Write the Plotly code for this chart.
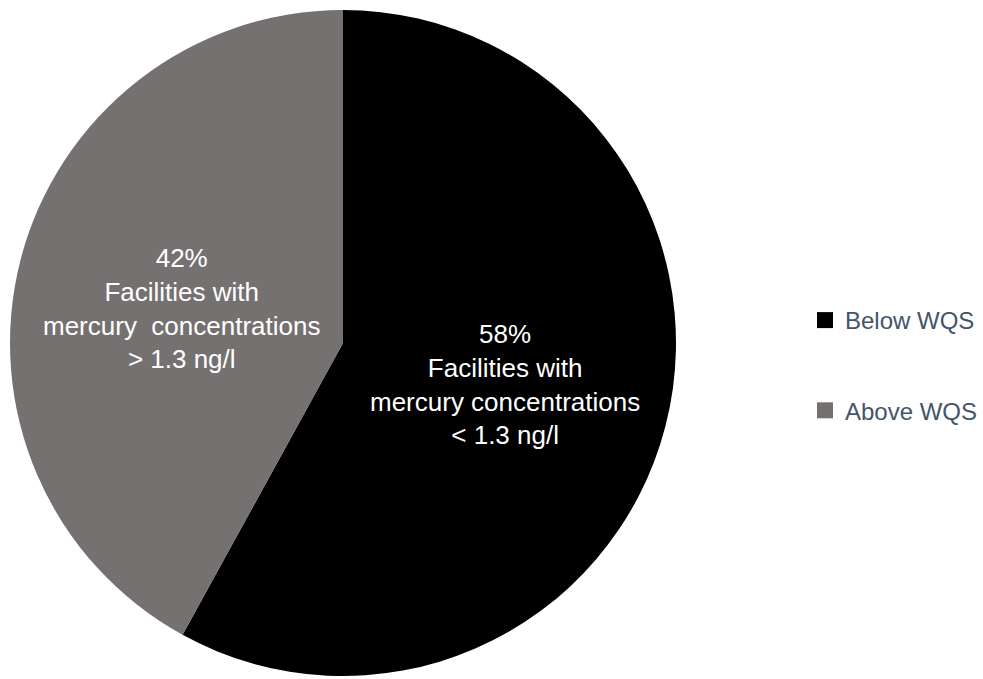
import plotly.graph_objects as go

# Share of facilities relative to the water quality standard (WQS)
categories = ["Below WQS", "Above WQS"]
shares = [58, 42]
descriptions = [
    "Facilities with<br>mercury concentrations<br>&lt; 1.3 ng/l",
    "Facilities with<br>mercury&nbsp; concentrations<br>&gt; 1.3 ng/l",
]
colors = ["#000000", "#767171"]

# label anchor points in paper coordinates
label_pos = [(0.514, 0.433), (0.185, 0.545)]

FONT = "Liberation Sans, Arial, sans-serif"

fig = go.Figure()
fig.add_trace(go.Pie(
    labels=categories,
    values=shares,
    marker=dict(colors=colors, line=dict(width=0)),
    sort=False,
    direction="clockwise",
    rotation=0,
    textinfo="none",
    hoverinfo="label+percent",
    showlegend=False,
    domain=dict(x=[10 / 983, 676 / 983], y=[3 / 679, 669 / 679]),
))

# legend entries
for i, (cat, col) in enumerate(zip(categories, colors)):
    fig.add_trace(go.Scatter(
        x=[None], y=[None], mode="markers", name=cat,
        marker=dict(symbol="square", size=16, color=col),
        legendgroup=f"g{i}", showlegend=True,
    ))

for (x, y), s, d in zip(label_pos, shares, descriptions):
    fig.add_annotation(
        x=x, y=y, xref="paper", yref="paper",
        xanchor="center", yanchor="middle",
        text=f"{s}%<br>{d}", showarrow=False,
        font=dict(family=FONT, size=26, color="#FFFFFF"),
        align="center",
    )

fig.update_layout(
    width=983, height=679,
    margin=dict(l=0, r=0, t=0, b=0, autoexpand=False),
    paper_bgcolor="white", plot_bgcolor="white",
    xaxis=dict(visible=False), yaxis=dict(visible=False),
    legend=dict(
        x=1, y=1 - 298 / 679, xanchor="right", yanchor="top",
        font=dict(family=FONT, size=24, color="#44546A"),
        tracegroupgap=56, itemsizing="trace",
        bgcolor="rgba(0,0,0,0)",
    ),
)

fig.write_html("out.html")
